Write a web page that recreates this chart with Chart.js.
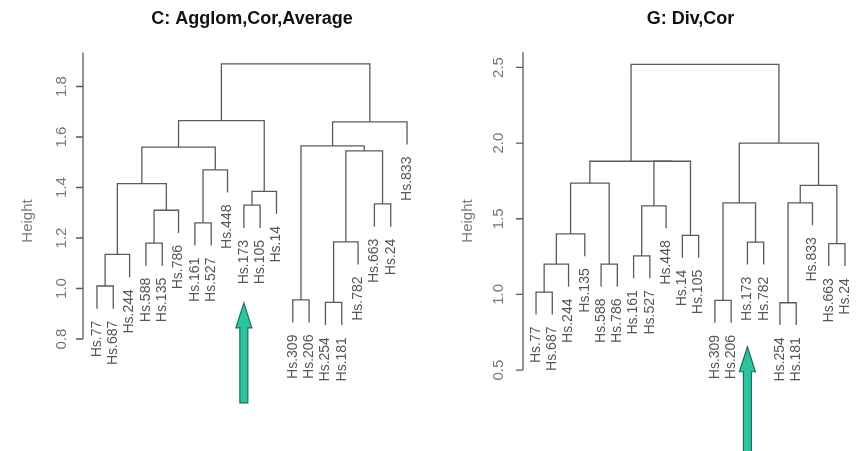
<!DOCTYPE html>
<html>
<head>
<meta charset="utf-8">
<script src="https://cdn.jsdelivr.net/npm/chart.js@4.4.1/dist/chart.umd.min.js"></script>
<style>
  html, body { margin: 0; padding: 0; background: #fff; }
  .wrap { display: flex; width: 860px; height: 451px; }
  .panel { position: relative; width: 430px; height: 451px; }
</style>
</head>
<body>
<div class="wrap">
  <div class="panel"><canvas id="chartC"></canvas></div>
  <div class="panel"><canvas id="chartG"></canvas></div>
</div>
<script>
// Panel C: agglomerative, correlation, average linkage
const titleC = 'C: Agglom,Cor,Average';
const leavesC = ['Hs.77', 'Hs.687', 'Hs.244', 'Hs.588', 'Hs.135', 'Hs.786', 'Hs.161', 'Hs.527',
  'Hs.448', 'Hs.173', 'Hs.105', 'Hs.14', 'Hs.309', 'Hs.206', 'Hs.254', 'Hs.181', 'Hs.782',
  'Hs.663', 'Hs.24', 'Hs.833'];
// each merge joins two members: a leaf name or the number (1-based) of an earlier merge
const mergesC = [
  ['Hs.77', 'Hs.687'], [1, 'Hs.244'], ['Hs.588', 'Hs.135'], [3, 'Hs.786'], [2, 4],
  ['Hs.161', 'Hs.527'], [6, 'Hs.448'], [5, 7], ['Hs.173', 'Hs.105'], [9, 'Hs.14'], [8, 10],
  ['Hs.309', 'Hs.206'], ['Hs.254', 'Hs.181'], [13, 'Hs.782'], ['Hs.663', 'Hs.24'], [14, 15],
  [12, 16], [17, 'Hs.833'], [11, 18]
];
const heightsC = [1.01, 1.135, 1.18, 1.31, 1.415, 1.26, 1.47, 1.56, 1.33, 1.385, 1.665,
  0.955, 0.945, 1.185, 1.335, 1.545, 1.565, 1.66, 1.89];
const ticksC = [0.8, 1.0, 1.2, 1.4, 1.6, 1.8];

// Panel G: divisive, correlation
const titleG = 'G: Div,Cor';
const leavesG = ['Hs.77', 'Hs.687', 'Hs.244', 'Hs.135', 'Hs.588', 'Hs.786', 'Hs.161', 'Hs.527',
  'Hs.448', 'Hs.14', 'Hs.105', 'Hs.309', 'Hs.206', 'Hs.173', 'Hs.782', 'Hs.254', 'Hs.181',
  'Hs.833', 'Hs.663', 'Hs.24'];
const mergesG = [
  ['Hs.77', 'Hs.687'], [1, 'Hs.244'], [2, 'Hs.135'], ['Hs.588', 'Hs.786'], [3, 4],
  ['Hs.161', 'Hs.527'], [6, 'Hs.448'], ['Hs.14', 'Hs.105'], [7, 8], [5, 9],
  ['Hs.309', 'Hs.206'], ['Hs.173', 'Hs.782'], [11, 12], ['Hs.254', 'Hs.181'], [14, 'Hs.833'],
  ['Hs.663', 'Hs.24'], [15, 16], [13, 17], [10, 18]
];
const heightsG = [1.015, 1.2, 1.4, 1.2, 1.735, 1.255, 1.585, 1.39, 1.88, 1.88,
  0.96, 1.345, 1.605, 0.945, 1.605, 1.335, 1.72, 2.0, 2.52];
const ticksG = [0.5, 1.0, 1.5, 2.0, 2.5];

const markedLeaf = 'Hs.173';

const LINE = '#5a5a5a';
const TEXT = '#555';
const FONT = '"Liberation Sans", Arial, sans-serif';

// builds the U-shaped links of a dendrogram as line datasets
function dendroSets(leaves, merges, heights, hang) {
  const pos = [];
  function member(m) {
    if (typeof m === 'string') {
      return { x: leaves.indexOf(m) + 1, y: null };
    }
    return { x: pos[m - 1], y: heights[m - 1] };
  }
  const sets = [];
  merges.forEach((pair, i) => {
    const h = heights[i];
    const a = member(pair[0]);
    const b = member(pair[1]);
    pos[i] = (a.x + b.x) / 2;
    sets.push({
      data: [
        { x: a.x, y: a.y === null ? h - hang : a.y },
        { x: a.x, y: h },
        { x: b.x, y: h },
        { x: b.x, y: b.y === null ? h - hang : b.y }
      ],
      showLine: true,
      borderColor: LINE,
      borderWidth: 1.3,
      pointRadius: 0,
      fill: false,
      tension: 0
    });
  });
  return sets;
}

function leafEnds(leaves, merges, heights, hang) {
  const ends = {};
  merges.forEach((pair, i) => {
    pair.forEach(m => { if (typeof m === 'string') ends[m] = heights[i] - hang; });
  });
  return leaves.map(l => ends[l]);
}

// R-like frame: title, rotated tick labels, Height label, leaf labels, arrow
const rFrame = {
  id: 'rFrame',
  afterDraw(chart, args, o) {
    const ctx = chart.ctx;
    const xs = chart.scales.x, ys = chart.scales.y;
    const ax = o.axisX;
    ctx.save();

    // title
    ctx.fillStyle = '#111';
    ctx.font = 'bold 18px ' + FONT;
    ctx.textAlign = 'center';
    ctx.textBaseline = 'middle';
    ctx.fillText(o.title, (chart.chartArea.left + chart.chartArea.right) / 2, 19);

    // axis
    ctx.strokeStyle = LINE;
    ctx.lineWidth = 1.3;
    ctx.beginPath();
    ctx.moveTo(ax, ys.getPixelForValue(o.ticks[0]));
    ctx.lineTo(ax, ys.getPixelForValue(o.axisTop));
    o.ticks.forEach(t => {
      const py = ys.getPixelForValue(t);
      ctx.moveTo(ax, py);
      ctx.lineTo(ax - 7, py);
    });
    ctx.stroke();

    ctx.fillStyle = '#777';
    ctx.font = '15px ' + FONT;
    o.ticks.forEach(t => {
      const py = ys.getPixelForValue(t);
      ctx.save();
      ctx.translate(ax - o.tickGap, py);
      ctx.rotate(-Math.PI / 2);
      ctx.textAlign = 'center';
      ctx.textBaseline = 'middle';
      ctx.fillText(t.toFixed(1), 0, 0);
      ctx.restore();
    });

    ctx.save();
    ctx.translate(ax - 55, 221);
    ctx.rotate(-Math.PI / 2);
    ctx.textAlign = 'center';
    ctx.textBaseline = 'middle';
    ctx.fillText('Height', 0, 0);
    ctx.restore();

    // leaf labels
    ctx.fillStyle = TEXT;
    ctx.font = '14px ' + FONT;
    o.leaves.forEach((l, i) => {
      const px = xs.getPixelForValue(i + 1);
      const py = ys.getPixelForValue(o.ends[i]) + 12;
      ctx.save();
      ctx.translate(px, py);
      ctx.rotate(-Math.PI / 2);
      ctx.textAlign = 'right';
      ctx.textBaseline = 'middle';
      ctx.fillText(l, 0, 0);
      ctx.restore();
    });

    // arrow under the marked leaf
    const cx = xs.getPixelForValue(o.leaves.indexOf(markedLeaf) + 1);
    const tip = ys.getPixelForValue(o.arrow[0]);
    const bot = ys.getPixelForValue(o.arrow[1]);
    const base = tip + 25;
    ctx.beginPath();
    ctx.moveTo(cx, tip);
    ctx.lineTo(cx + 8, base);
    ctx.lineTo(cx + 4, base);
    ctx.lineTo(cx + 4, bot);
    ctx.lineTo(cx - 4, bot);
    ctx.lineTo(cx - 4, base);
    ctx.lineTo(cx - 8, base);
    ctx.closePath();
    ctx.fillStyle = '#2cc39f';
    ctx.fill();
    ctx.strokeStyle = '#1f6f5e';
    ctx.lineWidth = 1.2;
    ctx.stroke();

    ctx.restore();
  }
};

function makeChart(id, leaves, merges, heights, hang, yMin, yMax, pad, frame) {
  return new Chart(document.getElementById(id), {
    type: 'scatter',
    data: { datasets: dendroSets(leaves, merges, heights, hang) },
    options: {
      responsive: false,
      animation: false,
      layout: { padding: pad },
      plugins: {
        legend: { display: false },
        tooltip: { enabled: false },
        rFrame: Object.assign({ leaves: leaves, ends: leafEnds(leaves, merges, heights, hang) }, frame)
      },
      scales: {
        x: { type: 'linear', min: 0.5, max: 20.5, display: false },
        y: { type: 'linear', min: yMin, max: yMax, display: false }
      }
    },
    plugins: [rFrame]
  });
}

['chartC', 'chartG'].forEach(id => {
  const c = document.getElementById(id);
  c.width = 430; c.height = 451;
});

makeChart('chartC', leavesC, mergesC, heightsC, 0.09, 0.4, 2.0,
  { left: 88.8, right: 14.8, top: 36, bottom: 11 },
  { title: titleC, ticks: ticksC, axisX: 83, axisTop: 1.935, tickGap: 21, arrow: [0.943, 0.547] });

makeChart('chartG', leavesG, mergesG, heightsG, 0.148, 0.0, 2.7,
  { left: 97.9, right: 6.9, top: 37.2, bottom: 5.3 },
  { title: titleG, ticks: ticksG, axisX: 93, axisTop: 2.6, tickGap: 24, arrow: [0.654, -0.06] });
</script>
</body>
</html>
